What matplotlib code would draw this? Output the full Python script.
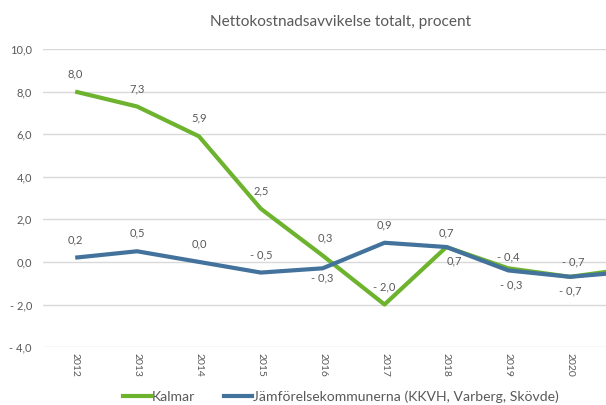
import matplotlib
matplotlib.use("Agg")
import matplotlib.pyplot as plt
from matplotlib.lines import Line2D

years = [2012, 2013, 2014, 2015, 2016, 2017, 2018, 2019, 2020, 2021]
kalmar = [8.0, 7.3, 5.9, 2.5, 0.3, -2.0, 0.7, -0.3, -0.7, -0.3]
jamfor = [0.2, 0.5, 0.0, -0.5, -0.3, 0.9, 0.7, -0.4, -0.7, -0.45]
yticks = [-4, -2, 0, 2, 4, 6, 8, 10]
title = "Nettokostnadsavvikelse totalt, procent"
names = ["Kalmar", "Jämförelsekommunerna (KKVH, Varberg, Skövde)"]

green = "#6db32d"
blue = "#43729c"
txt = "#595959"

plt.rcParams['font.family'] = ['Lato', 'DejaVu Sans']

def fmt(v):
    s = f"{abs(v):.1f}".replace(".", ",")
    return ("- " + s) if v < 0 else s

fig = plt.figure(figsize=(6.06, 4.05), dpi=100)
ax = fig.add_axes([0.071, 0.143, 0.929, 0.736])
ax.set_xlim(2011.48, 2020.58)
ax.set_ylim(-4, 10)
for s in ax.spines.values():
    s.set_visible(False)
ax.set_yticks(yticks)
ax.set_yticklabels([fmt(v) for v in yticks], color=txt, fontsize=8)
ax.set_xticks(years[:-1])
ax.set_xticklabels([str(y) for y in years[:-1]], rotation=-90, color=txt, fontsize=7.5)
ax.tick_params(axis='y', length=0, pad=8)
ax.tick_params(axis='x', length=0, pad=4)
ax.grid(axis='y', color="#d9d9d9", lw=1)
ax.set_axisbelow(True)

ax.plot(years, kalmar, color=green, lw=3, solid_capstyle='butt', zorder=3)
ax.plot(years, jamfor, color=blue, lw=3, solid_capstyle='butt', zorder=4)

# label offsets in points (x, y); positive y above, negative below
k_off = [(0, 9), (0, 9), (0, 9), (0, 9), (2, 9), (0, 9), (6, -6), (2, -8), (0, -6)]
j_off = [(0, 9), (0, 9), (0, 9), (0, 9), (0, -3), (0, 9), (0, 6), (0, 6), (2, 7)]
for x, v, (dx, dy) in zip(years[:-1], kalmar[:-1], k_off):
    ax.annotate(fmt(v), (x, v), xytext=(dx, dy), textcoords='offset points',
                ha='center', va='bottom' if dy > 0 else 'top', color=txt, fontsize=8)
for x, v, (dx, dy) in zip(years[:-1], jamfor[:-1], j_off):
    ax.annotate(fmt(v), (x, v), xytext=(dx, dy), textcoords='offset points',
                ha='center', va='bottom' if dy > 0 else 'top', color=txt, fontsize=8)

fig.text(0.562, 0.946, title, ha='center', va='center', color=txt, fontsize=11.1)

handles = [Line2D([], [], color=green, lw=3), Line2D([], [], color=blue, lw=3)]
fig.legend(handles, names, loc='center', bbox_to_anchor=(0.562, 0.02), ncol=2,
           frameon=False, fontsize=10.1, handlelength=2.0, handletextpad=0.05,
           columnspacing=2.1, labelcolor=txt, borderpad=0)

fig.savefig("out.png", dpi=100)
